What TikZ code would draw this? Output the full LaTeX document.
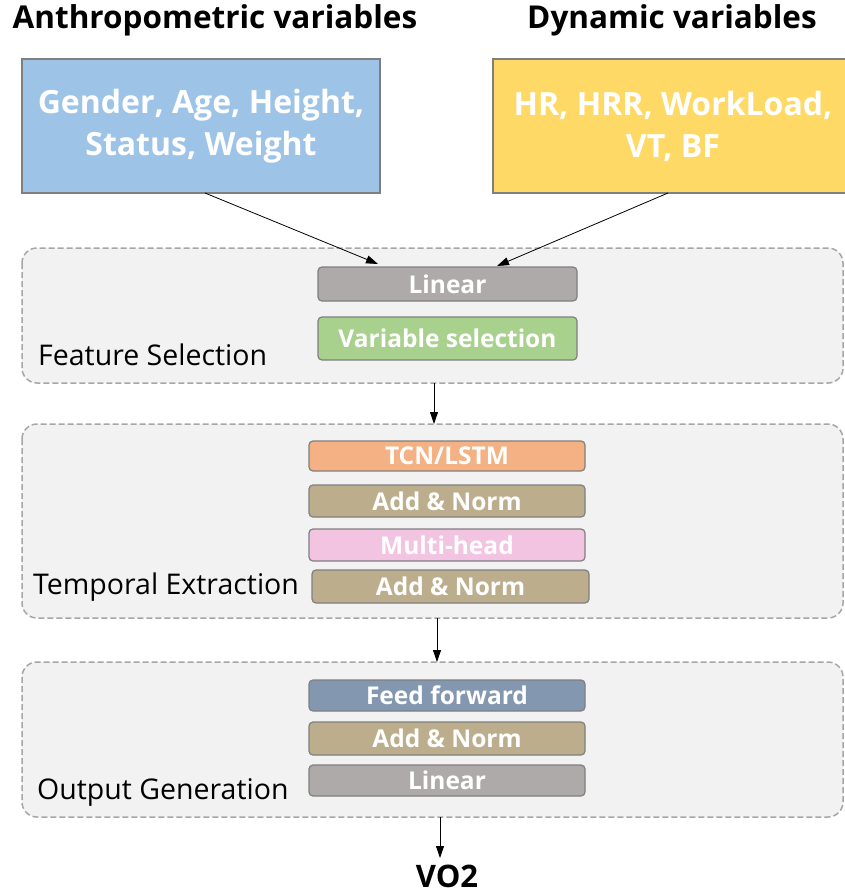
\documentclass[tikz,border=0pt]{standalone}
\usepackage{fontspec}
\setmainfont{Open Sans}
\usetikzlibrary{arrows.meta}
\definecolor{bluefill}{HTML}{9DC3E6}
\definecolor{yellowfill}{HTML}{FFD966}
\definecolor{boxborder}{HTML}{7F7F7F}
\definecolor{groupfill}{HTML}{F2F2F2}
\definecolor{groupline}{HTML}{A6A6A6}
\definecolor{linfill}{HTML}{AEAAAA}
\definecolor{varfill}{HTML}{A9D18E}
\definecolor{tcnfill}{HTML}{F4B183}
\definecolor{addfill}{HTML}{BCAE8C}
\definecolor{mhfill}{HTML}{F3C3E2}
\definecolor{fffill}{HTML}{8497B0}
\tikzset{
  title/.style={font=\fontsize{31.5}{34}\selectfont\bfseries, text=black},
  inbox/.style={draw=boxborder, line width=1.5pt, text=white, align=center,
    font=\fontsize{32}{42}\selectfont\bfseries, inner sep=0pt},
  group/.style={draw=groupline, fill=groupfill, dash pattern=on 6pt off 3pt,
    line width=1.5pt, rounded corners=15pt},
  layer/.style={draw=boxborder, line width=1.2pt, rounded corners=4pt, text=white,
    font=\fontsize{24.5}{26}\selectfont\bfseries, inner sep=0pt},
  glabel/.style={font=\fontsize{28.5}{30}\selectfont, text=black, inner sep=0pt},
  arr/.style={-{Triangle[length=12pt,width=8pt]}, line width=0.8pt, black},
}
\begin{document}
\begin{tikzpicture}[x=1pt,y=-1pt]
\useasboundingbox (0,0) rectangle (845,894);

\node[title] (t1) at (215,20) {Anthropometric variables};
\node[title] (t2) at (672,20) {Dynamic variables};

\node[inbox, fill=bluefill, minimum width=358pt, minimum height=134pt] (anth) at (201,126)
  {Gender, Age, Height,\\Status, Weight};
\node[inbox, fill=yellowfill, minimum width=360pt, minimum height=134pt] (dyn) at (673,126)
  {HR, HRR, WorkLoad,\\VT, BF};

% groups
\draw[group] (22,248) rectangle (843,383);
\draw[group] (22,424) rectangle (843,618);
\draw[group] (22,662) rectangle (843,817);
\coordinate (g1b) at (434,383);
\coordinate (g2t) at (434,424);
\coordinate (g2b) at (437,618);
\coordinate (g3t) at (437,662);
\coordinate (g3b) at (440,817);
\coordinate (vo2t) at (440,858);

% feature selection
\node[layer, fill=linfill, minimum width=259pt, minimum height=34pt] (lin1) at (447.5,284) {Linear};
\node[layer, fill=varfill, minimum width=259pt, minimum height=43pt] (var) at (447.5,338.5) {Variable selection};
\node[glabel, anchor=west] (fs) at (38,355) {Feature Selection};

% temporal extraction
\node[layer, fill=tcnfill, minimum width=276pt, minimum height=30pt] (tcn) at (447,456) {TCN/LSTM};
\node[layer, fill=addfill, minimum width=276pt, minimum height=32pt] (an1) at (447,501) {Add \& Norm};
\node[layer, fill=mhfill, minimum width=276pt, minimum height=32pt] (mh) at (447,545) {Multi-head};
\node[layer, fill=addfill, minimum width=277pt, minimum height=33pt] (an2) at (450.5,586.5) {Add \& Norm};
\node[glabel, anchor=west] (te) at (33,587) {Temporal Extraction};

% output generation
\node[layer, fill=fffill, minimum width=276pt, minimum height=31pt] (ff) at (447,695.5) {Feed forward};
\node[layer, fill=addfill, minimum width=276pt, minimum height=33pt] (an3) at (447,738.5) {Add \& Norm};
\node[layer, fill=linfill, minimum width=276pt, minimum height=31pt] (lin2) at (447,780.5) {Linear};
\node[glabel, anchor=west] (og) at (37,792) {Output Generation};

\node[font=\fontsize{31}{33}\selectfont\bfseries, inner sep=0pt] (vo2) at (447,876) {VO2};

% arrows
\draw[arr] (205,193) -- (378,264);
\draw[arr] (668,193) -- (497,266);
\draw[arr] (g1b) -- (g2t);
\draw[arr] (g2b) -- (g3t);
\draw[arr] (g3b) -- (vo2t);
\end{tikzpicture}
\end{document}
